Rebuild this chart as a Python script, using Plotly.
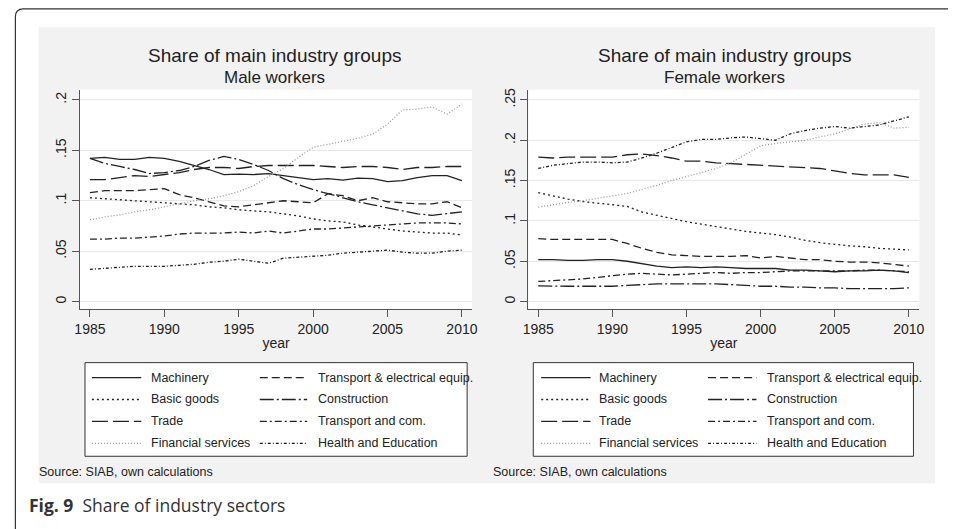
import plotly.graph_objects as go

W, H = 954, 529

years = list(range(1985, 2011))
tick_years = [1985, 1990, 1995, 2000, 2005, 2010]
male_ytick_vals = [0, 0.05, 0.1, 0.15, 0.2]
male_ytick_text = ["0", ".05", ".1", ".15", ".2"]
female_ytick_vals = [0, 0.05, 0.1, 0.15, 0.2, 0.25]
female_ytick_text = ["0", ".05", ".1", ".15", ".2", ".25"]

series_names = ["Machinery", "Transport & electrical equip.", "Basic goods", "Construction",
                "Trade", "Transport and com.", "Financial services", "Health and Education"]

# Male workers
male_machinery = [.142, .143, .141, .141, .143, .142, .139, .135, .131, .126, .1265, .126, .127,
                  .125, .123, .121, .122, .1205, .1225, .122, .119, .120, .123, .125, .125, .120]
male_transport_equip = [.108, .110, .110, .110, .111, .112, .106, .103, .099, .095, .094, .096, .098,
                        .100, .099, .098, .107, .105, .100, .103, .099, .098, .097, .097, .099, .093]
male_basic = [.103, .102, .101, .100, .099, .098, .097, .096, .094, .093, .091, .090, .089,
              .087, .085, .082, .080, .079, .076, .074, .072, .070, .069, .068, .068, .066]
male_construction = [.142, .137, .134, .131, .127, .128, .130, .134, .140, .144, .141, .136, .130,
                      .122, .116, .111, .107, .103, .099, .096, .093, .090, .087, .0855, .087, .089]
male_trade = [.121, .121, .123, .125, .124, .126, .128, .131, .133, .133, .132, .134, .135,
              .135, .135, .135, .134, .133, .134, .134, .133, .131, .133, .133, .134, .134]
male_transport_com = [.062, .062, .063, .063, .064, .065, .067, .068, .068, .068, .069, .068, .070,
                       .068, .070, .072, .072, .073, .074, .075, .076, .077, .078, .078, .078, .077]
male_financial = [.081, .084, .086, .089, .091, .094, .097, .100, .102, .105, .109, .115, .124,
                  .132, .143, .153, .156, .159, .162, .166, .176, .190, .191, .193, .186, .196]
male_health = [.032, .033, .034, .035, .035, .035, .036, .037, .039, .040, .042, .040, .038,
               .043, .044, .045, .046, .048, .049, .050, .051, .049, .048, .048, .050, .051]

# Female workers
female_machinery = [.052, .052, .051, .051, .052, .052, .050, .047, .044, .042, .043, .042, .043,
                     .042, .041, .041, .041, .039, .039, .038, .037, .038, .038, .039, .038, .036]
female_transport_equip = [.078, .077, .077, .077, .077, .077, .072, .066, .061, .058, .057, .056, .056,
                          .056, .057, .054, .056, .054, .052, .052, .050, .049, .049, .048, .046, .044]
female_basic = [.135, .131, .127, .124, .122, .120, .118, .111, .107, .103, .099, .096, .093,
                .090, .087, .085, .083, .080, .076, .073, .071, .069, .068, .066, .065, .064]
female_construction = [.0195, .019, .019, .019, .019, .019, .020, .021, .022, .022, .022, .022, .022,
                        .021, .020, .019, .019, .018, .018, .017, .017, .016, .016, .016, .016, .017]
female_trade = [.179, .178, .179, .179, .179, .179, .182, .183, .181, .178, .174, .174, .172,
                .171, .170, .169, .168, .167, .166, .165, .162, .159, .157, .157, .157, .154]
female_transport_com = [.025, .026, .027, .028, .030, .032, .034, .035, .034, .033, .034, .035, .036,
                         .035, .036, .036, .037, .038, .038, .038, .038, .038, .039, .039, .038, .037]
female_financial = [.117, .120, .123, .125, .128, .131, .134, .139, .144, .150, .155, .160, .165,
                    .172, .182, .193, .196, .198, .200, .204, .208, .214, .220, .222, .215, .216]
female_health = [.165, .169, .171, .173, .173, .172, .173, .178, .184, .191, .198, .201, .201,
                 .203, .204, .202, .200, .208, .212, .215, .217, .215, .217, .219, .224, .229]

male_series = [male_machinery, male_transport_equip, male_basic, male_construction,
               male_trade, male_transport_com, male_financial, male_health]
female_series = [female_machinery, female_transport_equip, female_basic, female_construction,
                 female_trade, female_transport_com, female_financial, female_health]

DARK = "#222222"
styles = [
    dict(color=DARK, dash="solid"),
    dict(color=DARK, dash="8px,4px"),
    dict(color=DARK, dash="2px,3px"),
    dict(color=DARK, dash="14px,3px,2px,3px"),
    dict(color=DARK, dash="16px,5px"),
    dict(color=DARK, dash="7px,3px,2px,3px"),
    dict(color="#9a9a9a", dash="1px,2px"),
    dict(color=DARK, dash="3px,2px,1px,2px"),
]
LW = 1.3


def px(x):
    return x / W


def py(y):
    return 1 - y / H


FONT = "Liberation Sans, Arial, sans-serif"
fig = go.Figure()

for vals, st, nm in zip(male_series, styles, series_names):
    fig.add_trace(go.Scatter(x=years, y=vals, mode="lines", name=nm, showlegend=False,
                             line=dict(color=st["color"], dash=st["dash"], width=LW),
                             xaxis="x", yaxis="y"))
for vals, st, nm in zip(female_series, styles, series_names):
    fig.add_trace(go.Scatter(x=years, y=vals, mode="lines", name=nm, showlegend=False,
                             line=dict(color=st["color"], dash=st["dash"], width=LW),
                             xaxis="x2", yaxis="y2"))

# plot areas (pixels)
L_X0, L_X1 = 75, 472
R_X0, R_X1 = 529, 925
P_Y0, P_Y1 = 88, 308

axis_common = dict(ticks="outside", ticklen=7, tickcolor="#555", tickwidth=1,
                   showline=True, linecolor="#555", linewidth=1, zeroline=False,
                   tickfont=dict(family=FONT, size=14, color="#222"))

fig.update_layout(
    width=W, height=H,
    margin=dict(l=0, r=0, t=0, b=0),
    paper_bgcolor="white", plot_bgcolor="white",
    showlegend=False,
    font=dict(family=FONT, color="#222"),
    xaxis=dict(domain=[px(L_X0), px(L_X1)], range=[1984.336, 2010.68], anchor="y",
               tickvals=tick_years, showgrid=False,
               title=dict(text="year", font=dict(family=FONT, size=14, color="#222"), standoff=2),
               **axis_common),
    yaxis=dict(domain=[py(P_Y1), py(P_Y0)], range=[-0.0072, 0.2102], anchor="x",
               tickvals=male_ytick_vals, ticktext=male_ytick_text, tickangle=-90,
               showgrid=True, gridcolor="#e8e8e8", gridwidth=1, **axis_common),
    xaxis2=dict(domain=[px(R_X0), px(R_X1)], range=[1984.33, 2010.71], anchor="y2",
                tickvals=tick_years, showgrid=False,
                title=dict(text="year", font=dict(family=FONT, size=14, color="#222"), standoff=2),
                **axis_common),
    yaxis2=dict(domain=[py(P_Y1), py(P_Y0)], range=[-0.009, 0.2627], anchor="x2",
                tickvals=female_ytick_vals, ticktext=female_ytick_text, tickangle=-90,
                showgrid=True, gridcolor="#e8e8e8", gridwidth=1, **axis_common),
)

shapes = []
# gray graph region
shapes.append(dict(type="rect", xref="paper", yref="paper", layer="below",
                   x0=px(33), x1=px(941), y0=py(483), y1=py(25),
                   fillcolor="#f2f2f2", line=dict(width=0)))
# white plot regions
for x0, x1 in [(L_X0, L_X1), (R_X0, R_X1)]:
    shapes.append(dict(type="rect", xref="paper", yref="paper", layer="below",
                       x0=px(x0), x1=px(x1), y0=py(P_Y1), y1=py(P_Y0),
                       fillcolor="white", line=dict(width=0)))
# outer rounded frame
r = 8
path = (f"M{px(9.5)},{py(529)} L{px(9.5)},{py(7 + r)} "
        f"Q{px(9.5)},{py(7)} {px(9.5 + r)},{py(7)} L{px(954)},{py(7)}")
shapes.append(dict(type="path", xref="paper", yref="paper", path=path,
                   line=dict(color="#333", width=1.2)))

annotations = []
# titles
for cx, sub in [(272, "Male workers"), (728, "Female workers")]:
    annotations.append(dict(x=px(cx), y=py(54), xref="paper", yref="paper", showarrow=False,
                            xanchor="center", yanchor="middle", text="Share of main industry groups",
                            font=dict(family=FONT, size=19, color="#222")))
    annotations.append(dict(x=px(cx), y=py(76), xref="paper", yref="paper", showarrow=False,
                            xanchor="center", yanchor="middle", text=sub,
                            font=dict(family=FONT, size=17, color="#222")))

# legends (one per panel)
row_y = [377, 399, 421, 443]
legend_specs = [
    dict(box=(80, 467), cols=[(87, 137, 145), (257, 305, 314)]),
    dict(box=(534, 919), cols=[(542, 592, 599), (711, 760, 769)]),
]
for spec in legend_specs:
    bx0, bx1 = spec["box"]
    shapes.append(dict(type="rect", xref="paper", yref="paper",
                       x0=px(bx0), x1=px(bx1), y0=py(456), y1=py(362),
                       fillcolor="white", line=dict(color="#333", width=1), layer="below"))
    for i, nm in enumerate(series_names):
        row, col = i // 2, i % 2
        lx0, lx1, tx = spec["cols"][col]
        yy = row_y[row]
        st = styles[i]
        shapes.append(dict(type="line", xref="paper", yref="paper",
                           x0=px(lx0), x1=px(lx1), y0=py(yy), y1=py(yy),
                           line=dict(color=st["color"], dash=st["dash"], width=LW)))
        annotations.append(dict(x=px(tx), y=py(yy), xref="paper", yref="paper", showarrow=False,
                                xanchor="left", yanchor="middle", text=nm,
                                font=dict(family=FONT, size=12.5, color="#222")))

# source notes
for sx in [31, 491]:
    annotations.append(dict(x=px(sx), y=py(472), xref="paper", yref="paper", showarrow=False,
                            xanchor="left", yanchor="middle", text="Source: SIAB, own calculations",
                            font=dict(family=FONT, size=12.5, color="#222")))

# caption
annotations.append(dict(x=px(21), y=py(505), xref="paper", yref="paper", showarrow=False,
                        xanchor="left", yanchor="middle",
                        text="<b>Fig. 9</b>  Share of industry sectors",
                        font=dict(family="Open Sans, Noto Sans, sans-serif", size=17.5, color="#333")))

fig.update_layout(shapes=shapes, annotations=annotations)

fig.write_html("out.html", config={"displayModeBar": False},
               post_script="document.body.style.margin='0';document.body.style.overflow='hidden';")
